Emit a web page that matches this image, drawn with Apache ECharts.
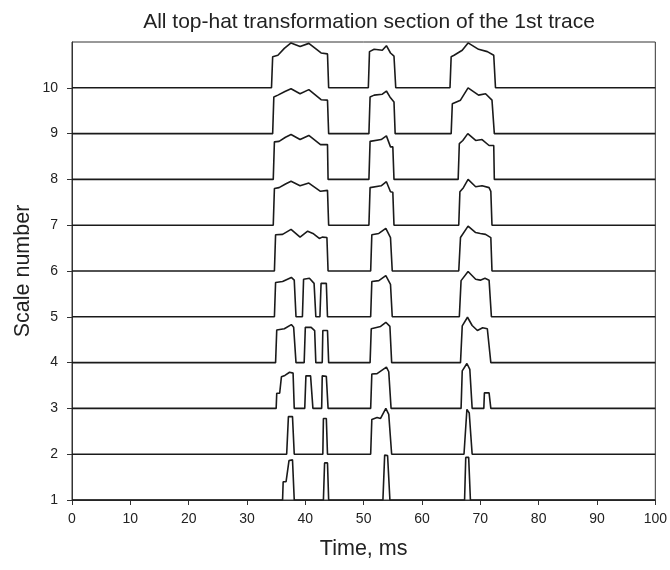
<!DOCTYPE html>
<html>
<head>
<meta charset="utf-8">
<script src="https://cdn.jsdelivr.net/npm/echarts@6/dist/echarts.min.js"></script>
<style>
    html, body{ margin: 0; padding: 0; background: #fff;}
    #chart{ width: 670px; height: 570px;}
</style>
</head>
<body>
<div id="chart"></div>
<script>
    // [time ms, height above the trace baseline]
    var trace1 = [[0,0],[36.1,0],[36.2,0.40],[36.7,0.40],[37.2,0.86],[37.8,0.88],[38.1,0],
        [43.1,0],[43.3,0.81],[43.8,0.81],[44.0,0],
        [53.3,0],[53.6,0.98],[54.1,0.97],[54.5,0],
        [67.3,0],[67.5,0.93],[68.0,0.93],[68.3,0],[100,0]];
    var trace2 = [[0,0],[36.8,0],[37.1,0.82],[37.8,0.82],[38.1,0],
        [43.0,0],[43.1,0.78],[43.6,0.78],[43.8,0],
        [51.2,0],[51.4,0.76],[52.3,0.80],[52.9,0.78],[53.8,1.0],[54.3,0.87],[54.8,0],
        [67.2,0],[67.7,0.98],[68.1,0.90],[68.6,0],[100,0]];
    var trace3 = [[0,0],[35.0,0],[35.1,0.33],[35.6,0.33],[35.9,0.69],[36.5,0.72],[37.3,0.79],[37.9,0.77],[38.1,0],
        [39.9,0],[40.1,0.71],[40.9,0.71],[41.3,0],
        [42.8,0],[42.9,0.71],[43.6,0.70],[43.9,0],
        [51.2,0],[51.4,0.75],[52.3,0.76],[53.9,0.90],[54.3,0.80],[54.7,0],
        [66.7,0],[66.9,0.82],[67.7,0.98],[68.2,0.85],[68.6,0],
        [70.6,0],[70.7,0.34],[71.5,0.34],[71.8,0],[100,0]];
    var trace4 = [[0,0],[34.9,0],[35.1,0.71],[36.4,0.74],[37.6,0.83],[38.0,0.77],[38.4,0],
        [39.8,0],[40.0,0.77],[41.0,0.77],[41.6,0.70],[41.8,0],
        [42.9,0],[43.0,0.70],[43.8,0.70],[44.0,0],
        [51.1,0],[51.3,0.74],[52.9,0.79],[53.8,0.88],[54.5,0.79],[54.8,0],
        [66.6,0],[66.9,0.80],[67.8,0.99],[68.6,0.81],[69.5,0.70],[70.4,0.76],[71.2,0.74],[71.8,0],[100,0]];
    var trace5 = [[0,0],[34.7,0],[34.9,0.75],[36.1,0.77],[37.6,0.86],[38.1,0.80],[38.4,0],
        [39.5,0],[39.7,0.82],[40.7,0.84],[41.5,0.73],[41.8,0],
        [42.5,0],[42.7,0.73],[43.6,0.73],[43.8,0],
        [51.2,0],[51.4,0.77],[52.6,0.79],[53.8,0.90],[54.6,0.71],[54.9,0],
        [66.4,0],[66.7,0.79],[67.9,0.99],[69.2,0.82],[70.0,0.80],[70.8,0.84],[71.5,0.80],[71.9,0],[100,0]];
    var trace6 = [[0,0],[34.7,0],[34.9,0.79],[36.1,0.80],[37.55,0.91],[39.1,0.74],[40.4,0.87],[41.3,0.82],[42.4,0.71],[42.9,0.74],[43.7,0.73],[43.9,0],
        [51.2,0],[51.4,0.79],[52.6,0.82],[53.8,0.93],[54.6,0.73],[54.9,0],
        [66.3,0],[66.6,0.73],[67.9,0.98],[69.2,0.84],[70.0,0.82],[70.9,0.80],[71.8,0.73],[72.0,0],[100,0]];
    var trace7 = [[0,0],[34.5,0],[34.7,0.80],[35.5,0.82],[36.6,0.90],[37.55,0.96],[39.1,0.86],[40.6,0.92],[42.6,0.74],[43.8,0.76],[44.0,0],
        [50.9,0],[51.1,0.82],[53.0,0.86],[53.9,0.95],[54.6,0.73],[55.0,0.72],[55.2,0],
        [66.3,0],[66.5,0.73],[67.1,0.82],[67.9,1.0],[69.2,0.84],[70.3,0.86],[71.5,0.82],[71.8,0.74],[72.0,0],[100,0]];
    var trace8 = [[0,0],[34.5,0],[34.7,0.82],[35.5,0.83],[36.6,0.92],[37.55,0.98],[39.1,0.87],[40.6,0.96],[42.6,0.76],[43.8,0.76],[43.9,0],
        [50.9,0],[51.1,0.83],[53.0,0.87],[53.9,0.95],[54.6,0.71],[55.0,0.71],[55.2,0],
        [66.2,0],[66.4,0.78],[67.0,0.85],[67.85,1.0],[69.2,0.85],[70.3,0.87],[71.5,0.74],[72.3,0.74],[72.4,0],[100,0]];
    var trace9 = [[0,0],[34.4,0],[34.6,0.80],[35.3,0.84],[36.5,0.92],[37.55,0.98],[39.1,0.87],[40.6,0.96],[42.7,0.74],[43.8,0.73],[44.0,0],
        [50.9,0],[51.1,0.80],[51.8,0.84],[53.2,0.86],[53.9,0.93],[54.5,0.80],[55.2,0.69],[55.4,0],
        [65.0,0],[65.2,0.65],[66.6,0.73],[67.9,1.0],[69.7,0.84],[70.9,0.87],[72.0,0.73],[72.4,0],[100,0]];
    var trace10 = [[0,0],[34.2,0],[34.4,0.68],[35.3,0.71],[36.4,0.86],[37.55,0.98],[39.1,0.90],[40.6,0.97],[42.7,0.76],[43.8,0.74],[44.0,0],
        [50.8,0],[51.0,0.79],[51.8,0.84],[53.2,0.82],[53.9,0.92],[54.6,0.76],[55.2,0.69],[55.5,0],
        [64.8,0],[65.0,0.68],[65.5,0.71],[66.9,0.82],[67.9,0.98],[69.7,0.84],[71.2,0.79],[72.3,0.71],[72.6,0],[100,0]];

    var traces = [trace1, trace2, trace3, trace4, trace5, trace6, trace7, trace8, trace9, trace10];
    var xTicks = [0, 10, 20, 30, 40, 50, 60, 70, 80, 90, 100];
    var yTicks = [1, 2, 3, 4, 5, 6, 7, 8, 9, 10];

    var chart = echarts.init(document.getElementById('chart'));
    var axisColor = '#333';
    var labelFont = 'Liberation Sans, Arial, sans-serif';

    var series = traces.map(function(tr, i){
        var scale = i + 1;
        return {
            type: 'line',
            showSymbol: false,
            data: tr.map(function(p){ return [p[0], scale + p[1]]; }),
            lineStyle: {color: '#1a1a1a', width: 1.6},
            z: 3
        };
    });

    chart.setOption({
        animation: false,
        title: {
            text: 'All top-hat transformation section of the 1st trace',
            left: 364, top: 7, textAlign: 'center',
            textStyle: {fontFamily: labelFont, fontSize: 21, fontWeight: 'normal', color: '#222'}
        },
        grid: {left: 72, right: 13, top: 42, bottom: 70, show: true, borderColor: axisColor, borderWidth: 1, backgroundColor: 'transparent'},
        xAxis: {
            type: 'value', min: 0, max: 100, interval: 10,
            name: 'Time, ms', nameLocation: 'middle', nameGap: 38, nameMoveOverlap: false,
            nameTextStyle: {fontFamily: labelFont, fontSize: 21.5, color: '#222'},
            axisLine: {lineStyle: {color: axisColor, width: 1}},
            axisTick: {length: 5, lineStyle: {color: axisColor}, customValues: xTicks},
            axisLabel: {margin: 12, fontFamily: labelFont, fontSize: 14, color: '#222', customValues: xTicks},
            splitLine: {show: false}
        },
        yAxis: {
            type: 'value', min: 1, max: 11, interval: 1,
            name: 'Scale number', nameLocation: 'middle', nameGap: 38, nameMoveOverlap: false,
            nameTextStyle: {fontFamily: labelFont, fontSize: 21.5, color: '#222'},
            axisLine: {show: true, lineStyle: {color: axisColor, width: 1}},
            axisTick: {show: true, length: 5, lineStyle: {color: axisColor}, customValues: yTicks},
            axisLabel: {margin: 14, fontFamily: labelFont, fontSize: 14, color: '#222', customValues: yTicks},
            splitLine: {show: false}
        },
        series: series
    });
</script>
</body>
</html>
